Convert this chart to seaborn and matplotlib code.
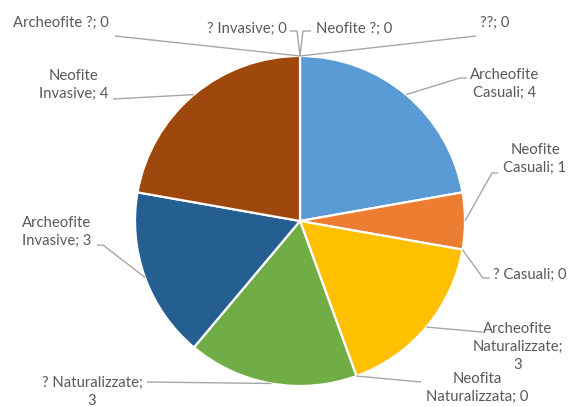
import numpy as np
import matplotlib
matplotlib.use("Agg")
import matplotlib.pyplot as plt
import seaborn as sns

# ---- data ----
categories = ["Archeofite Casuali", "Neofite Casuali", "? Casuali",
              "Archeofite Naturalizzate", "Neofita Naturalizzata", "? Naturalizzate",
              "Archeofite Invasive", "Neofite Invasive",
              "Archeofite ?", "? Invasive", "Neofite ?", "??"]
values = [4, 1, 0, 3, 0, 3, 3, 4, 0, 0, 0, 0]
colors = ["#5B9BD5", "#ED7D31", "#A5A5A5", "#FFC000", "#4472C4", "#70AD47",
          "#255E91", "#9E480E", "#997300", "#636363", "#264478", "#43682B"]

# ---- layout (pixel coords, y measured from top) ----
W, H = 574, 407
CX, CY, R = 300, 221, 165
# token indices after which a line break is inserted
breaks = [[0], [0], [], [0, 1], [0], [1], [0], [0], [], [], [], []]
text_pos = [(505, 84), (535, 159), (530, 275), (518, 347), (477, 388), (92, 392),
            (57, 232), (74, 85), (61, 23), (247, 29), (354, 29), (495, 23)]
line_start = [[(467, 78), (460, 78)],
              [(498, 173), (492, 173)],
              [(490, 278), (483, 278)],
              [(482, 332)],
              [(421, 382)],
              [(147, 382)],
              [(97, 245), (103, 245)],
              [(113, 99)],
              [(115, 36)],
              [(290, 31), (297, 31)],
              [(311, 31), (303, 31)],
              [(476, 36)]]

sns.set_theme(style="white")
plt.rcParams["font.family"] = ["Lato", "DejaVu Sans"]

fig = plt.figure(figsize=(W / 100, H / 100), dpi=100)
ax = fig.add_axes([0, 0, 1, 1])

def Y(y):
    return H - y

nz = [(v, c) for v, c in zip(values, colors) if v > 0]
ax.pie([v for v, _ in nz], colors=[c for _, c in nz], startangle=90, counterclock=False,
       center=(CX, Y(CY)), radius=R,
       wedgeprops=dict(edgecolor="white", linewidth=1.6))

total = float(sum(values))
cum = 0.0
for i, (cat, v) in enumerate(zip(categories, values)):
    mid = 90 - 360.0 * (cum + v / 2.0) / total
    cum += v
    ex = CX + R * np.cos(np.radians(mid))
    ey = Y(CY) + R * np.sin(np.radians(mid))
    pts = line_start[i]
    xs = [p[0] for p in pts] + [ex]
    ys = [Y(p[1]) for p in pts] + [ey]
    ax.plot(xs, ys, color="#A6A6A6", lw=1.0, solid_capstyle="butt", zorder=1)

    tokens = f"{cat}; {v}".split(" ")
    s = ""
    for k, t in enumerate(tokens):
        s += t
        if k < len(tokens) - 1:
            s += "\n" if k in breaks[i] else " "
    tx, ty = text_pos[i]
    ax.text(tx, Y(ty), s, ha="center", va="center", fontsize=10.7,
            color="#595959", linespacing=1.35, multialignment="center")

ax.set_xlim(0, W)
ax.set_ylim(0, H)
ax.set_aspect("equal")
ax.axis("off")
fig.savefig("out.png", dpi=100)
